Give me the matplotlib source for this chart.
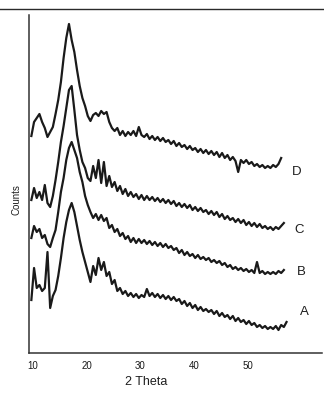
import numpy as np
import matplotlib
matplotlib.use("Agg")
import matplotlib.pyplot as plt
from matplotlib.lines import Line2D

plt.rcParams['font.family'] = ['Liberation Sans', 'DejaVu Sans']

# 2 Theta sample positions (degrees), 0.5 degree spacing starting at 9.7
two_theta = np.round(np.arange(9.7, 57.21, 0.5), 2)

# Counts (arbitrary units, curves are stacked)
counts_D = [217, 231, 235, 239, 231, 225, 216, 221, 226, 239,
            253, 271, 295, 315, 329, 313, 301, 283, 267, 255,
            247, 237, 232, 238, 240, 237, 242, 239, 241, 231,
            225, 222, 225, 218, 222, 217, 221, 218, 222, 217,
            226, 218, 216, 219, 214, 217, 213, 216, 212, 215,
            211, 213, 209, 212, 207, 210, 206, 208, 204, 207,
            203, 205, 201, 204, 200, 203, 199, 202, 198, 201,
            196, 200, 195, 198, 193, 196, 192, 181, 193, 190,
            193, 189, 191, 187, 189, 186, 188, 185, 187, 185,
            188, 186, 189, 195]

counts_C = [153, 165, 155, 161, 153, 168, 150, 146, 157, 173,
            191, 211, 227, 245, 263, 267, 243, 218, 203, 191,
            185, 175, 172, 187, 175, 193, 170, 191, 167, 177,
            166, 171, 162, 167, 159, 164, 157, 161, 156, 159,
            154, 158, 153, 157, 153, 156, 152, 155, 151, 154,
            150, 153, 149, 152, 147, 150, 146, 149, 145, 148,
            143, 146, 142, 145, 141, 143, 139, 142, 138, 141,
            136, 139, 134, 137, 133, 135, 131, 134, 130, 133,
            128, 131, 127, 130, 126, 129, 125, 127, 124, 126,
            123, 126, 124, 127, 130]

counts_B = [115, 127, 121, 124, 115, 118, 109, 106, 115, 123,
            141, 161, 175, 193, 205, 211, 203, 195, 181, 171,
            157, 148, 141, 135, 139, 133, 138, 132, 135, 125,
            128, 121, 124, 117, 120, 114, 117, 111, 115, 110,
            114, 110, 113, 109, 112, 108, 111, 107, 110, 106,
            109, 105, 107, 103, 105, 100, 103, 98, 101, 97,
            99, 95, 98, 94, 96, 93, 95, 91, 93, 90,
            92, 88, 90, 86, 88, 84, 86, 83, 85, 82,
            84, 81, 83, 80, 91, 80, 82, 79, 81, 79,
            81, 79, 82, 80, 83]

counts_A = [53, 85, 65, 68, 62, 65, 101, 45, 57, 63,
            77, 95, 115, 131, 143, 150, 141, 127, 113, 101,
            91, 81, 71, 87, 78, 95, 83, 91, 77, 81,
            69, 73, 62, 65, 59, 62, 57, 60, 56, 59,
            55, 58, 56, 64, 57, 60, 56, 59, 55, 58,
            54, 57, 53, 56, 52, 54, 49, 52, 47, 50,
            45, 48, 43, 46, 42, 44, 41, 43, 39, 42,
            37, 40, 36, 38, 34, 37, 32, 35, 31, 33,
            29, 32, 28, 30, 26, 28, 25, 27, 24, 26,
            24, 27, 23, 28, 26, 31]

series = [("D", counts_D), ("C", counts_C), ("B", counts_B), ("A", counts_A)]
label_pos = {"D": (59.0, 181), "C": (59.6, 123), "B": (60.0, 81), "A": (60.6, 41)}
x_ticks = [10, 20, 30, 40, 50]

W, H = 324, 396
fig = plt.figure(figsize=(W / 100, H / 100), dpi=100)
ax = fig.add_axes([29 / W, 1 - 353 / H, (322 - 29) / W, (353 - 15) / H])

line_color = "#1a1a1a"
for name, vals in series:
    xs = two_theta[:len(vals)]
    ax.plot(xs, vals, color=line_color, lw=1.6, solid_joinstyle="round")
    lx, ly = label_pos[name]
    ax.text(lx, ly, name, fontsize=9.5, ha="center", va="center", color="#1e1e1e")

ax.set_xlim(9.26, 63.8)
ax.set_ylim(0, 338)
ax.set_xticks(x_ticks)
ax.set_xticklabels([str(t) for t in x_ticks])
ax.set_yticks([])
ax.tick_params(axis="x", length=0, pad=6, labelsize=7, labelcolor="#1a1a1a")
for side in ("top", "right"):
    ax.spines[side].set_visible(False)
for side in ("left", "bottom"):
    ax.spines[side].set_color("#333333")
    ax.spines[side].set_linewidth(1.1)

fig.text(146 / W, 1 - 382 / H, "2 Theta", fontsize=9, ha="center", va="center", color="#1e1e1e")
fig.text(17 / W, 1 - 200 / H, "Counts", fontsize=7, rotation=90, ha="center", va="center", color="#1e1e1e")

# top border line of the scanned figure
fig.add_artist(Line2D([0, 1], [1 - 9 / H, 1 - 9 / H], transform=fig.transFigure,
                      color="#2a2a2a", lw=1.0))

fig.savefig("out.png", dpi=100)
